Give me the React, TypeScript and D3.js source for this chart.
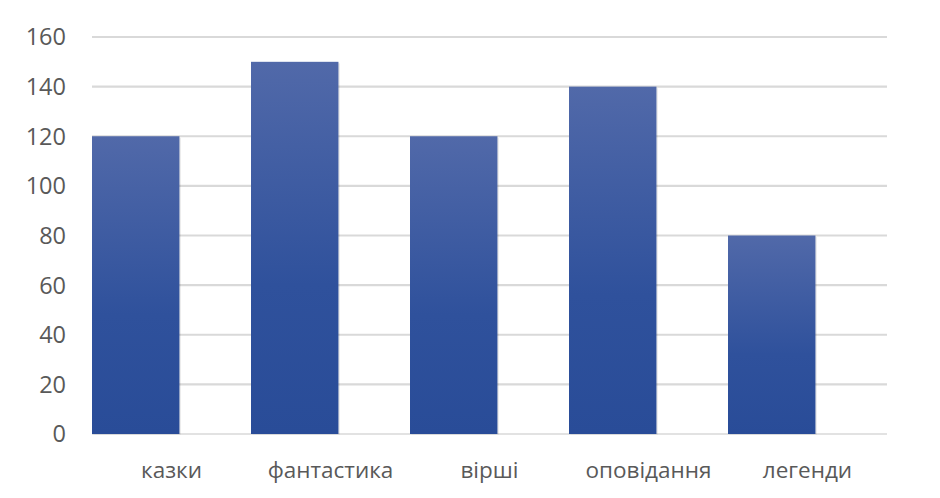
import React from "react";
import * as d3 from "d3";

const categories: string[] = ["казки", "фантастика", "вірші", "оповідання", "легенди"];
const values: number[] = [120, 150, 120, 140, 80];
const yTicks: number[] = [0, 20, 40, 60, 80, 100, 120, 140, 160];

const W = 940;
const H = 498;
const plotLeft = 92;
const plotRight = 887;
const plotTop = 37;
const plotBottom = 434;

export default function App() {
  const x = d3.scaleBand<string>().domain(categories).range([plotLeft, plotRight]).paddingInner(0).paddingOuter(0);
  const y = d3.scaleLinear().domain([0, 160]).range([plotBottom, plotTop]);
  const barW = x.bandwidth() * 0.55;
  const font = "'Open Sans', 'Noto Sans', sans-serif";
  return (
    <svg
      width={W}
      height={H}
      style={{ position: "fixed", left: 0, top: 0, background: "#fff" }}
    >
      <rect x={0} y={0} width={W} height={H} fill="#fff" />
      {yTicks.map((t) => (
        <g key={t}>
          <line x1={plotLeft} x2={plotRight} y1={y(t)} y2={y(t)} stroke="#d9d9d9" strokeWidth={t === 0 ? 1.5 : 2.2} />
          <text x={66} y={y(t)} dy="0.36em" textAnchor="end" fontFamily={font} fontSize={23.5} fill="#595959">
            {t}
          </text>
        </g>
      ))}
      {categories.map((c, i) => {
        const x0 = x(c) as number;
        const yTop = y(values[i]);
        const h = plotBottom - yTop;
        return (
          <g key={c}>
            <rect x={x0 + 1.5} y={yTop + 1.5} width={barW} height={h - 1} fill="#000" opacity={0.08} />
            <linearGradient id={`g${i}`} x1="0" y1={yTop} x2="0" y2={plotBottom} gradientUnits="userSpaceOnUse">
              <stop offset="0" stopColor="#5169a9" />
              <stop offset="0.6" stopColor="#2f519c" />
              <stop offset="1" stopColor="#294c98" />
            </linearGradient>
            <rect x={x0} y={yTop} width={barW} height={h} fill={`url(#g${i})`} />
            <text x={x0 + x.bandwidth() / 2} y={478} textAnchor="middle" fontFamily={font} fontSize={22.5} fill="#595959">
              {c}
            </text>
          </g>
        );
      })}
    </svg>
  );
}
